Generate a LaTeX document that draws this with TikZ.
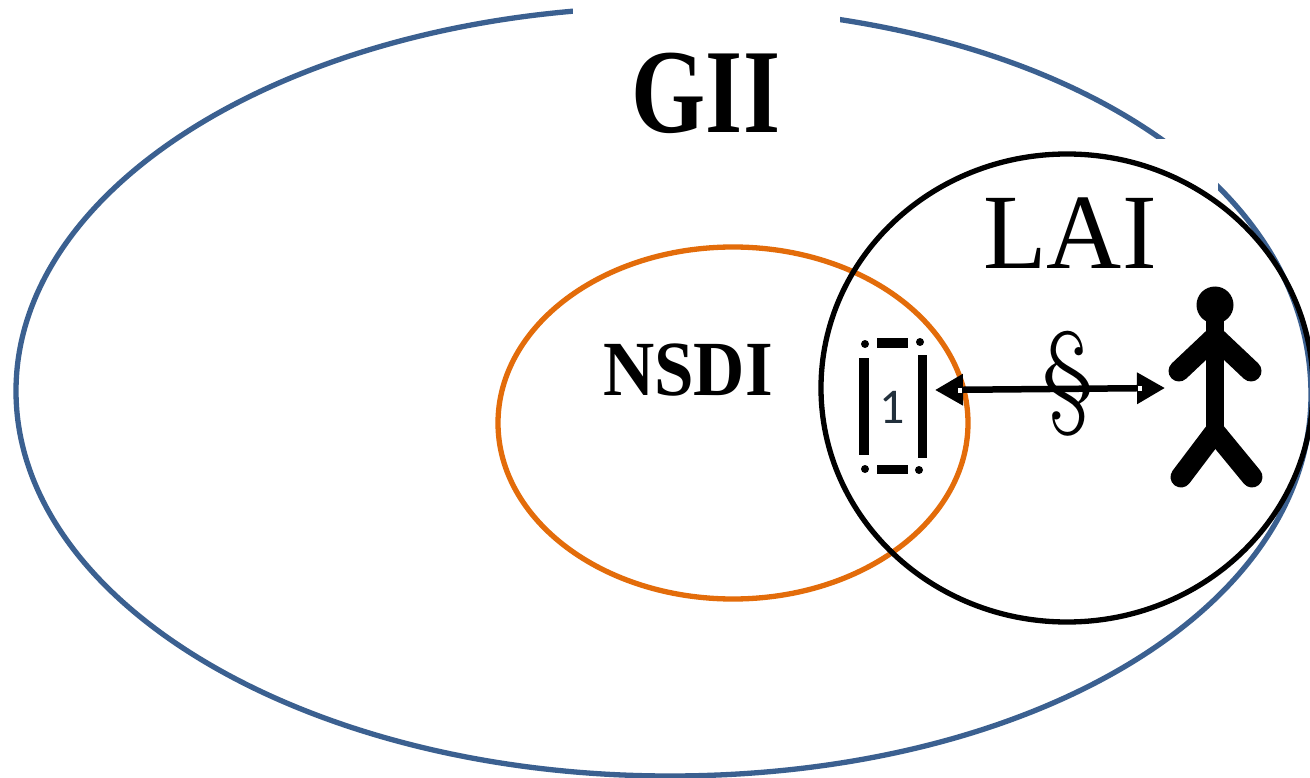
\documentclass[tikz,border=0pt]{standalone}
\usepackage{fontspec}
\newfontfamily\libserif{Liberation Serif}
\newfontfamily\carlitofont{Carlito}
\usetikzlibrary{arrows.meta}
\definecolor{giiblue}{HTML}{3B6090}
\definecolor{nsdiorange}{HTML}{E36C0A}
\definecolor{onecolor}{HTML}{22303C}
\tikzset{
  x=1pt,y=-1pt,
  ring/.style={line width=5.3pt},
  label/.style={inner sep=0pt,text=black,transform shape},
  figure/.style={line width=18pt,line cap=round,line join=round},
  limb/.style={line width=21pt,line cap=round,line join=round},
  bar/.style={fill=black,draw=none},
}
\begin{document}
\begin{tikzpicture}
\useasboundingbox (0,0) rectangle (1310,778);
\fill[white] (0,0) rectangle (1310,778);
\begin{scope}
\clip (0,0) rectangle (1310,778);
\draw[ring,giiblue] (670,7) .. controls (1030,7) and (1311,168) .. (1311,395)
  .. controls (1311,610) and (1030,776) .. (670,776)
  .. controls (309,776) and (16,604) .. (16,391)
  .. controls (16,178) and (309,7) .. (670,7) -- cycle;
\end{scope}
\fill[white] (573,0) rectangle (840,50);
\fill[white] (1130,139) rectangle (1218,200);
\draw[ring,nsdiorange] (733,423) ellipse [x radius=235,y radius=176];
\draw[ring,black] (1067,388) ellipse [x radius=246,y radius=234];
\node[label,xscale=0.953,yscale=1.2,font=\fontsize{100pt}{100pt}\selectfont\libserif\bfseries] (gii) at (706,93) {GII};
\node[label,yscale=1.03,font=\fontsize{104pt}{104pt}\selectfont\libserif] (lai) at (1070,233) {LAI};
\node[label,yscale=1.1,font=\fontsize{71pt}{71pt}\selectfont\libserif\bfseries] (nsdi) at (688,370) {NSDI};
\node[label,font=\fontsize{115pt}{115pt}\selectfont] (sec) at (1068,384) {§};
\coordinate (devR) at (935,390);
\coordinate (manL) at (1165,388);
\draw[line width=6.5pt,{Triangle[length=28pt,width=30pt]}-{Triangle[length=28pt,width=30pt]}] (devR) -- (manL);
\fill[white] (958,387.5) rectangle (962,392.5);
\fill[white] (1138,385.5) rectangle (1142,390.5);
% device
\fill[bar] (859,358) rectangle (869,455);
\fill[bar] (918,355) rectangle (927,458);
\fill[bar] (877,338) rectangle (908,348);
\fill[bar] (877,465) rectangle (908,474);
\foreach \p in {(865,344),(920,342),(865,469),(919,470)} \fill \p circle (4);
\node[label,text=onecolor,font=\fontsize{50pt}{50pt}\selectfont\carlitofont] (one) at (892,407) {1};
% stick figure
\fill (1215,305) circle (18.5);
\draw[figure] (1215,310) -- (1215,430);
\draw[limb] (1179,371) -- (1215,337) -- (1251,371);
\draw[limb] (1181,477) -- (1215,432) -- (1252,477);
\end{tikzpicture}
\end{document}
